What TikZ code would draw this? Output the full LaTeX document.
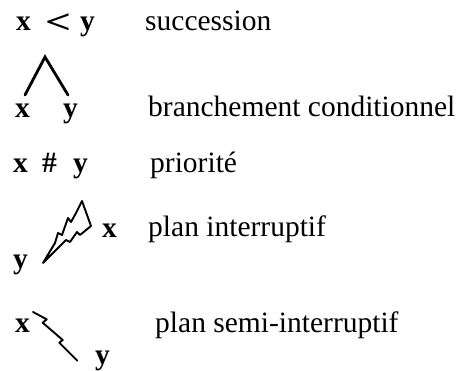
\documentclass[tikz,border=0pt]{standalone}
\usepackage{fontspec}
\setmainfont{Liberation Serif}
\usetikzlibrary{calc}
\begin{document}
\begin{tikzpicture}[x=1pt,y=-1pt,
  lab/.style={anchor=base west,inner sep=0pt,font=\fontsize{29.5}{32}\selectfont},
  sym/.style={anchor=base west,inner sep=0pt,font=\fontsize{29.5}{32}\selectfont\bfseries},
  stroke/.style={line width=2.8pt,line cap=round},
  bolt/.style={line width=1.9pt,line join=round,line cap=round}]
\useasboundingbox (0,0) rectangle (462,371);

% succession
\node[sym] (x1) at (16,31) {x};
\node[sym] (lt) at (45,34) {\scalebox{1.55}[1.15]{<}};
\node[sym] (y1) at (80,31) {y};
\node[lab] (t1) at (145,31) {succession};

% conditional branching
\node[sym] (x2) at (15,118) {x};
\node[sym] (y2) at (63,118) {y};
\coordinate (apex) at (45,57);
\coordinate (footl) at (25,95);
\coordinate (footr) at (68,95);
\draw[stroke] (footl) -- (apex) -- (footr);
\node[lab] (t2) at (148,117) {branchement conditionnel};

% priority
\node[sym] (x3) at (13,172) {x};
\node[sym] (hash) at (42,172) {\#};
\node[sym] (y3) at (73,172) {y};
\node[lab] (t3) at (150,173) {priorité};

% interrupting plan: lightning bolt from y to x
\node[sym] (y4) at (13,268) {y};
\node[sym] (x4) at (102,237) {x};
\coordinate (tip) at (43,263);
\draw[bolt] (tip) -- (55,243) -- (58,233) -- (62,235) -- (68,218) -- (71,222)
  -- (76,213) -- (82,201) -- (91,226) -- (80,235) -- (77,232) -- (70,242)
  -- (66,240) -- cycle;
\node[lab] (t4) at (148,236) {plan interruptif};

% semi-interrupting plan: broken line from x to y
\node[sym] (x5) at (15,332) {x};
\node[sym] (y5) at (95,364) {y};
\draw[bolt] (33,312) -- (46.7,319.3) -- (42.7,322.7) -- (62.7,340) -- (59.3,342.7) -- (77.3,360.7);
\node[lab] (t5) at (155,332) {plan semi-interruptif};
\end{tikzpicture}
\end{document}
